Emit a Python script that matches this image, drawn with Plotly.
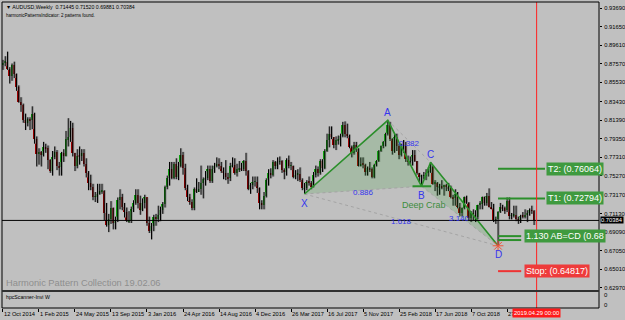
import plotly.graph_objects as go
import pandas as pd

# ---------------- data ----------------
week_start = "2014-10-12"
first_open = 0.8750
closes = [
    0.8770, 0.8780, 0.8700, 0.8620, 0.8740, 0.8640, 0.8500, 0.8340, 0.8310, 0.8140,
    0.8110, 0.8150, 0.8140, 0.8210, 0.7930, 0.7770, 0.7790, 0.7760, 0.7840, 0.7830,
    0.7700, 0.7580, 0.7730, 0.7790, 0.7640, 0.7620, 0.7780, 0.7750, 0.7930, 0.7950,
    0.8050, 0.7780, 0.7640, 0.7750, 0.7740, 0.7780, 0.7660, 0.7560, 0.7450, 0.7400,
    0.7300, 0.7300, 0.7330, 0.7360, 0.7360, 0.7120, 0.6990, 0.7050, 0.7180, 0.7010,
    0.7040, 0.7260, 0.7290, 0.7190, 0.7130, 0.7030, 0.7040, 0.7160, 0.7230, 0.7320,
    0.7230, 0.7150, 0.7230, 0.7290, 0.7010, 0.6920, 0.6980, 0.7080, 0.7050, 0.7100,
    0.7150, 0.7220, 0.7410, 0.7500, 0.7600, 0.7500, 0.7660, 0.7510, 0.7640, 0.7760,
    0.7610, 0.7390, 0.7300, 0.7240, 0.7180, 0.7380, 0.7360, 0.7380, 0.7450, 0.7490,
    0.7500, 0.7600, 0.7470, 0.7600, 0.7640, 0.7660, 0.7640, 0.7580, 0.7560, 0.7520,
    0.7500, 0.7630, 0.7650, 0.7560, 0.7600, 0.7610, 0.7600, 0.7690, 0.7580, 0.7380,
    0.7430, 0.7460, 0.7460, 0.7390, 0.7230, 0.7210, 0.7310, 0.7480, 0.7560, 0.7540,
    0.7680, 0.7640, 0.7680, 0.7690, 0.7590, 0.7570, 0.7700, 0.7640, 0.7640, 0.7520,
    0.7540, 0.7550, 0.7480, 0.7390, 0.7390, 0.7460, 0.7450, 0.7410, 0.7540, 0.7600,
    0.7560, 0.7690, 0.7610, 0.7800, 0.7920, 0.7990, 0.7950, 0.7870, 0.7920, 0.7920,
    0.7960, 0.8090, 0.7990, 0.7970, 0.7840, 0.7780, 0.7870, 0.7820, 0.7640, 0.7660,
    0.7650, 0.7570, 0.7610, 0.7600, 0.7520, 0.7650, 0.7690, 0.7800, 0.7850, 0.7900,
    0.7990, 0.8090, 0.7930, 0.7800, 0.7950, 0.7850, 0.7760, 0.7840, 0.7850, 0.7710,
    0.7680, 0.7690, 0.7760, 0.7690, 0.7560, 0.7520, 0.7530, 0.7530, 0.7560, 0.7570,
    0.7620, 0.7440, 0.7450, 0.7400, 0.7420, 0.7400, 0.7430, 0.7400, 0.7390, 0.7300,
    0.7280, 0.7330, 0.7190, 0.7120, 0.7180, 0.7290, 0.7230, 0.7070, 0.7120, 0.7100,
    0.7080, 0.7210, 0.7220, 0.7300, 0.7230, 0.7310, 0.7190, 0.7170, 0.7040, 0.7050,
    0.7130, 0.7190, 0.7170, 0.7150, 0.7250, 0.7090, 0.7090, 0.7100, 0.7050, 0.7040,
    0.7090, 0.7080, 0.7100, 0.7120, 0.7150, 0.71445, 0.70384,
]
highs = [
    0.8800, 0.8840, 0.8890, 0.8720, 0.8760, 0.8780, 0.8650, 0.8520, 0.8390, 0.8320,
    0.8210, 0.8170, 0.8170, 0.8290, 0.8220, 0.7960, 0.7830, 0.7800, 0.7900, 0.7880,
    0.7860, 0.7710, 0.7800, 0.7850, 0.7810, 0.7680, 0.7790, 0.7820, 0.8020, 0.8160,
    0.8130, 0.8110, 0.7780, 0.7820, 0.7850, 0.7820, 0.7820, 0.7720, 0.7580, 0.7540,
    0.7440, 0.7350, 0.7440, 0.7440, 0.7440, 0.7370, 0.7230, 0.7110, 0.7250, 0.7180,
    0.7080, 0.7290, 0.7380, 0.7330, 0.7230, 0.7180, 0.7140, 0.7190, 0.7260, 0.7380,
    0.7380, 0.7310, 0.7280, 0.7320, 0.7290, 0.7080, 0.7010, 0.7100, 0.7110, 0.7200,
    0.7190, 0.7240, 0.7420, 0.7530, 0.7680, 0.7680, 0.7680, 0.7720, 0.7680, 0.7830,
    0.7790, 0.7660, 0.7430, 0.7330, 0.7270, 0.7400, 0.7500, 0.7460, 0.7640, 0.7510,
    0.7580, 0.7640, 0.7640, 0.7640, 0.7670, 0.7730, 0.7720, 0.7680, 0.7620, 0.7700,
    0.7560, 0.7670, 0.7730, 0.7720, 0.7660, 0.7690, 0.7670, 0.7700, 0.7780, 0.7590,
    0.7450, 0.7520, 0.7520, 0.7520, 0.7400, 0.7260, 0.7350, 0.7500, 0.7600, 0.7610,
    0.7700, 0.7690, 0.7730, 0.7740, 0.7700, 0.7610, 0.7720, 0.7750, 0.7680, 0.7640,
    0.7590, 0.7600, 0.7620, 0.7500, 0.7450, 0.7480, 0.7520, 0.7470, 0.7570, 0.7640,
    0.7630, 0.7710, 0.7710, 0.7820, 0.7990, 0.8070, 0.8070, 0.7950, 0.7960, 0.7970,
    0.7990, 0.8120, 0.8125, 0.8100, 0.7980, 0.7860, 0.7900, 0.7900, 0.7830, 0.7730,
    0.7730, 0.7660, 0.7630, 0.7680, 0.7620, 0.7660, 0.7700, 0.7810, 0.7860, 0.7910,
    0.8000, 0.8136, 0.8120, 0.7940, 0.7990, 0.7990, 0.7880, 0.7880, 0.7920, 0.7900,
    0.7750, 0.7740, 0.7810, 0.7810, 0.7690, 0.7560, 0.7540, 0.7570, 0.7600, 0.7620,
    0.7677, 0.7640, 0.7480, 0.7460, 0.7440, 0.7480, 0.7430, 0.7440, 0.7450, 0.7420,
    0.7320, 0.7380, 0.7350, 0.7230, 0.7180, 0.7300, 0.7310, 0.7240, 0.7140, 0.7160,
    0.7150, 0.7210, 0.7250, 0.7300, 0.7300, 0.7340, 0.7390, 0.7240, 0.7220, 0.7080,
    0.7140, 0.7230, 0.7210, 0.7190, 0.7290, 0.7290, 0.7120, 0.7200, 0.7200, 0.7080,
    0.7100, 0.7130, 0.7160, 0.7150, 0.7170, 0.7200, 0.71520,
]
lows = [
    0.8690, 0.8730, 0.8690, 0.8540, 0.8570, 0.8600, 0.8460, 0.8330, 0.8230, 0.8110,
    0.8030, 0.8070, 0.8030, 0.8040, 0.7880, 0.7630, 0.7650, 0.7630, 0.7740, 0.7780,
    0.7600, 0.7560, 0.7530, 0.7710, 0.7590, 0.7530, 0.7530, 0.7680, 0.7740, 0.7850,
    0.7900, 0.7740, 0.7580, 0.7610, 0.7650, 0.7690, 0.7630, 0.7510, 0.7370, 0.7370,
    0.7260, 0.7240, 0.7230, 0.7320, 0.7330, 0.7040, 0.6970, 0.6910, 0.7000, 0.6940,
    0.6940, 0.7020, 0.7160, 0.7150, 0.7070, 0.7020, 0.7010, 0.7010, 0.7130, 0.7210,
    0.7170, 0.7100, 0.7140, 0.7170, 0.6980, 0.6900, 0.6830, 0.6920, 0.6980, 0.7020,
    0.7030, 0.7110, 0.7180, 0.7380, 0.7420, 0.7490, 0.7490, 0.7490, 0.7480, 0.7620,
    0.7540, 0.7370, 0.7250, 0.7210, 0.7150, 0.7150, 0.7340, 0.7350, 0.7320, 0.7280,
    0.7420, 0.7480, 0.7450, 0.7450, 0.7560, 0.7620, 0.7600, 0.7560, 0.7490, 0.7480,
    0.7440, 0.7470, 0.7620, 0.7540, 0.7520, 0.7570, 0.7580, 0.7580, 0.7530, 0.7370,
    0.7330, 0.7380, 0.7410, 0.7340, 0.7160, 0.7160, 0.7160, 0.7290, 0.7420, 0.7500,
    0.7520, 0.7600, 0.7600, 0.7650, 0.7560, 0.7490, 0.7530, 0.7610, 0.7590, 0.7500,
    0.7490, 0.7470, 0.7460, 0.7370, 0.7328, 0.7370, 0.7420, 0.7380, 0.7400, 0.7510,
    0.7520, 0.7540, 0.7570, 0.7600, 0.7790, 0.7840, 0.7930, 0.7830, 0.7810, 0.7870,
    0.7850, 0.7950, 0.7950, 0.7940, 0.7830, 0.7730, 0.7760, 0.7790, 0.7630, 0.7630,
    0.7610, 0.7530, 0.7530, 0.7570, 0.7500, 0.7500, 0.7630, 0.7680, 0.7790, 0.7830,
    0.7850, 0.7970, 0.7910, 0.7760, 0.7780, 0.7800, 0.7710, 0.7740, 0.7780, 0.7680,
    0.7640, 0.7640, 0.7640, 0.7680, 0.7540, 0.7460, 0.7413, 0.7490, 0.7480, 0.7520,
    0.7560, 0.7430, 0.7360, 0.7310, 0.7320, 0.7380, 0.7310, 0.7360, 0.7360, 0.7280,
    0.7200, 0.7200, 0.7170, 0.7080, 0.7080, 0.7160, 0.7220, 0.7040, 0.7020, 0.7040,
    0.7020, 0.7050, 0.7160, 0.7160, 0.7200, 0.7200, 0.7180, 0.7160, 0.7020, 0.7000,
    0.6760, 0.7120, 0.7140, 0.7110, 0.7130, 0.7050, 0.7050, 0.7070, 0.7030, 0.7000,
    0.7010, 0.7060, 0.7060, 0.7020, 0.7090, 0.7110, 0.69881,
]

# harmonic pattern (Deep Crab)
pat_names = ["X", "A", "B", "C", "D"]
pat_bar = [134, 171, 186, 190, 220]
pat_price = [0.7328, 0.8136, 0.7413, 0.7677, 0.6760]
ratio_text = {"XB": "0.886", "AC": "0.382", "BD": "3.140", "XD": "1.618"}
pattern_name = "Deep Crab"

target_text = ["T2: (0.76064)", "T1: (0.72794)"]
target_val = [0.76064, 0.72794]
abcd_text = "1.130 AB=CD (0.68"
abcd_val = [0.6866, 0.6823]
stop_text = "Stop: (0.64817)"
stop_val = 0.64817

current_price = 0.70384
vline_date = "2019-04-29"
vline_text = "2019.04.29 00:00"

ytick_vals = [0.93690, 0.91650, 0.89610, 0.87570, 0.85530, 0.83430, 0.81390, 0.79350,
              0.77310, 0.75270, 0.73170, 0.71130, 0.69090, 0.67050, 0.65010, 0.62970]
xtick_dates = ["2014-10-12", "2015-02-01", "2015-05-24", "2015-09-13", "2016-01-03",
               "2016-04-24", "2016-08-14", "2016-12-04", "2017-03-26", "2017-07-16",
               "2017-11-05", "2018-02-25", "2018-06-17", "2018-10-07", "2019-01-27"]
xtick_text = ["12 Oct 2014", "1 Feb 2015", "24 May 2015", "13 Sep 2015", "3 Jan 2016",
              "24 Apr 2016", "14 Aug 2016", "4 Dec 2016", "26 Mar 2017", "16 Jul 2017",
              "5 Nov 2017", "25 Feb 2018", "17 Jun 2018", "7 Oct 2018", "27"]

header_text = "\u25BC AUDUSD,Weekly  0.71445 0.71520 0.69881 0.70384"
indicator_text = "harmonicPatternsIndicator: 2 patterns found."
collection_text = "Harmonic Pattern Collection 19.02.06"
subpanel_text = "hpcScanner-Invi W"

# ---------------- build ----------------
FONT = "Liberation Sans, Arial, sans-serif"
BG = "#C0C0C0"
GREEN = "#2b8f2b"
BLUE = "#3535ee"

dates = pd.date_range(week_start, periods=len(closes), freq="7D")
opens = [first_open] + closes[:-1]
day = pd.Timedelta(days=1)

fig = go.Figure()

# body bars
base, height, colors = [], [], []
for o, c in zip(opens, closes):
    base.append(min(o, c))
    height.append(max(abs(c - o), 0.0004))
    colors.append("#10a010" if c >= o else "#9a0000")
fig.add_trace(go.Bar(x=dates, y=height, base=base, width=6 * 86400000,
                     marker=dict(color=colors, line=dict(width=0)),
                     hoverinfo="skip", showlegend=False))

# gray shadow wicks + black wicks
sx, sy, wx, wy = [], [], [], []
for d, h, l in zip(dates, highs, lows):
    sx += [d + 3 * day, d + 3 * day, None]
    sy += [l, h, None]
    wx += [d, d, None]
    wy += [l, h, None]
fig.add_trace(go.Scatter(x=sx, y=sy, mode="lines", line=dict(color="#8a8a8a", width=1),
                         hoverinfo="skip", showlegend=False))
fig.add_trace(go.Scatter(x=wx, y=wy, mode="lines", line=dict(color="#000000", width=1),
                         hoverinfo="skip", showlegend=False))

P = {n: (dates[i], p) for n, i, p in zip(pat_names, pat_bar, pat_price)}

def tri(a, b, c):
    fig.add_trace(go.Scatter(x=[P[a][0], P[b][0], P[c][0], P[a][0]],
                             y=[P[a][1], P[b][1], P[c][1], P[a][1]],
                             fill="toself", fillcolor="rgba(40,160,40,0.17)",
                             mode="lines", line=dict(width=0), hoverinfo="skip",
                             showlegend=False))

tri("X", "A", "B")
tri("B", "C", "D")

for a, b in [("X", "B"), ("A", "C"), ("B", "D"), ("X", "D")]:
    fig.add_trace(go.Scatter(x=[P[a][0], P[b][0]], y=[P[a][1], P[b][1]], mode="lines",
                             line=dict(color="#a4a4a4", width=1, dash="dot"),
                             hoverinfo="skip", showlegend=False))

fig.add_trace(go.Scatter(x=[P[n][0] for n in pat_names], y=[P[n][1] for n in pat_names],
                         mode="lines", line=dict(color=GREEN, width=1.6),
                         hoverinfo="skip", showlegend=False))

# B marker segment
fig.add_trace(go.Scatter(x=[P["B"][0] - 28 * day, P["B"][0] + 30 * day],
                         y=[P["B"][1], P["B"][1]], mode="lines",
                         line=dict(color=GREEN, width=2), hoverinfo="skip",
                         showlegend=False))

# D star
fig.add_trace(go.Scatter(x=[P["D"][0]], y=[P["D"][1]], mode="markers",
                         marker=dict(symbol="asterisk-open", size=9,
                                     line=dict(color="#ff40ff", width=1)),
                         hoverinfo="skip", showlegend=False))

# target lines
d0 = P["D"][0]
for v in target_val:
    fig.add_trace(go.Scatter(x=[d0, d0 + 146 * day], y=[v, v], mode="lines",
                             line=dict(color=GREEN, width=2), hoverinfo="skip",
                             showlegend=False))
for v in abcd_val:
    fig.add_trace(go.Scatter(x=[d0, d0 + 72 * day], y=[v, v], mode="lines",
                             line=dict(color=GREEN, width=2), hoverinfo="skip",
                             showlegend=False))
fig.add_trace(go.Scatter(x=[d0, d0 + 72 * day], y=[stop_val, stop_val], mode="lines",
                         line=dict(color="#ee3333", width=2), hoverinfo="skip",
                         showlegend=False))

ann = []
for t, v in zip(target_text, target_val):
    ann.append(dict(x=d0 + 150 * day, y=v, text=t, xanchor="left", yanchor="middle",
                    showarrow=False, bgcolor="#3f9a3f", font=dict(color="white", size=9, family=FONT),
                    borderpad=1))
ann.append(dict(x=d0 + 80 * day, y=abcd_val[0], text=abcd_text, xanchor="left",
                yanchor="middle", showarrow=False, bgcolor="#3f9a3f",
                font=dict(color="white", size=9, family=FONT), borderpad=1))
ann.append(dict(x=d0 + 80 * day, y=stop_val, text=stop_text, xanchor="left",
                yanchor="middle", showarrow=False, bgcolor="#ee3b3b",
                font=dict(color="white", size=9, family=FONT), borderpad=1))

# pattern point labels
shifts = {"X": -9, "A": 8, "B": -9, "C": 8, "D": -9}
for n in pat_names:
    ann.append(dict(x=P[n][0], y=P[n][1], text=n, showarrow=False, yshift=shifts[n],
                    font=dict(color=BLUE, size=10, family=FONT)))
ann.append(dict(x=P["B"][0], y=P["B"][1], text=pattern_name, showarrow=False,
                yshift=-19, xshift=2, font=dict(color="#3d8d3d", size=9, family=FONT)))
for key, txt in ratio_text.items():
    a, b = key[0], key[1]
    mx = P[a][0] + (P[b][0] - P[a][0]) / 2
    my = (P[a][1] + P[b][1]) / 2
    ann.append(dict(x=mx, y=my, text=txt, showarrow=False, yshift=-2,
                    font=dict(color=BLUE, size=8, family=FONT)))

# current price label on axis
ann.append(dict(x=1, xref="paper", y=current_price, text=str(current_price), xanchor="left",
                showarrow=False, xshift=1, bgcolor="black",
                font=dict(color="white", size=5.8, family=FONT), borderpad=0))

# texts
ann.append(dict(x=0, xref="paper", y=1, yref="paper", text=header_text, xanchor="left",
                yanchor="top", showarrow=False, xshift=2, yshift=0,
                font=dict(color="black", size=5.2, family=FONT)))
ann.append(dict(x=0, xref="paper", y=1, yref="paper", text=indicator_text, xanchor="left",
                yanchor="top", showarrow=False, xshift=2, yshift=-9,
                font=dict(color="black", size=4.5, family=FONT)))
ann.append(dict(x=0, xref="paper", y=0.0556, yref="paper", text=collection_text,
                xanchor="left", yanchor="bottom", showarrow=False, xshift=2, yshift=1,
                font=dict(color="#8e8e8e", size=9.3, family=FONT)))
ann.append(dict(x=0, xref="paper", y=0.0556, yref="paper", text=subpanel_text,
                xanchor="left", yanchor="top", showarrow=False, xshift=2, yshift=-1,
                font=dict(color="black", size=5.2, family=FONT)))
for yy in (0.75, 0.2):
    ann.append(dict(x=1, xref="paper", y=yy, yref="y2", text="0", xanchor="left",
                    showarrow=False, xshift=3, font=dict(color="black", size=6, family=FONT)))

for d, t in zip(xtick_dates, xtick_text):
    ann.append(dict(x=d, y=0, yref="paper", text=t, xanchor="left", yanchor="top",
                    showarrow=False, xshift=-1, yshift=-1,
                    font=dict(color="black", size=5.7, family=FONT)))
ann.append(dict(x=vline_date, y=0, yref="paper", text=vline_text, xanchor="center",
                yanchor="top", showarrow=False, yshift=0, bgcolor="#ff1a1a",
                font=dict(color="white", size=5.8, family=FONT), borderpad=1))

shapes = [
    dict(type="line", xref="paper", yref="y", x0=0, x1=1, y0=current_price, y1=current_price,
         line=dict(color="black", width=1)),
    dict(type="line", xref="x", yref="paper", x0=vline_date, x1=vline_date, y0=0, y1=1,
         line=dict(color="#ff2020", width=1)),
    dict(type="rect", xref="paper", yref="paper", x0=0, x1=1, y0=0, y1=1,
         line=dict(color="black", width=1)),
    dict(type="line", xref="paper", yref="paper", x0=0, x1=1, y0=0.0556, y1=0.0556,
         line=dict(color="#303030", width=2)),
]

fig.update_layout(
    width=625, height=320,
    margin=dict(l=2, r=26, t=2, b=12, autoexpand=False),
    paper_bgcolor=BG, plot_bgcolor=BG,
    showlegend=False,
    bargap=0,
    annotations=ann, shapes=shapes,
    xaxis=dict(type="date", range=["2014-10-09", "2019-11-09"], anchor="y2",
               automargin=False,
               showgrid=False, zeroline=False, showline=False,
               tickvals=xtick_dates, ticks="outside", ticklen=3, tickcolor="black",
               showticklabels=False, rangeslider=dict(visible=False), fixedrange=True),
    yaxis=dict(domain=[0.0556, 1], range=[0.62641, 0.94348], side="right",
               automargin=False,
               showgrid=False, zeroline=False, showline=False,
               tickvals=ytick_vals, ticktext=[f"{v:.5f}" for v in ytick_vals],
               ticks="outside", ticklen=2, tickcolor="black", ticklabelstandoff=1,
               tickfont=dict(size=5.8, family=FONT, color="black")),
    yaxis2=dict(domain=[0, 0.0556], range=[0, 1], showgrid=False, zeroline=False,
                automargin=False, showticklabels=False, ticks=""),
)

fig.write_html("out.html")
